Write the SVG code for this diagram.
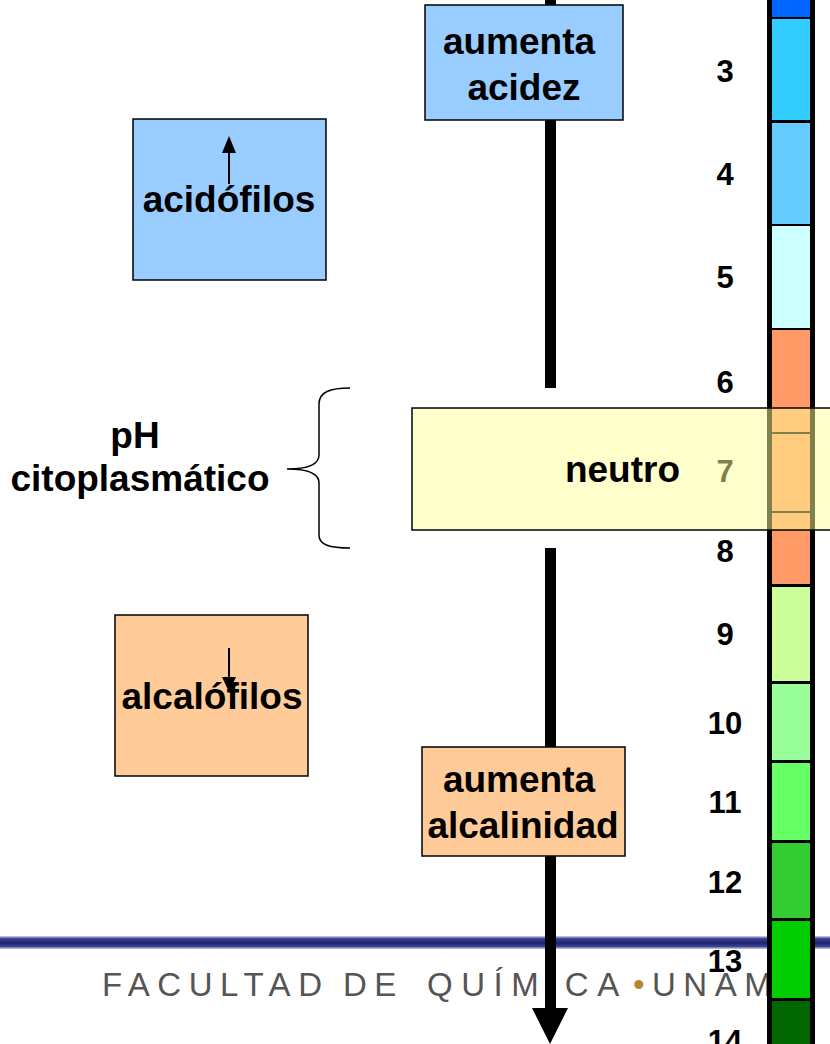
<svg xmlns="http://www.w3.org/2000/svg" width="830" height="1044" viewBox="0 0 830 1044">
<defs>
<style>
.w{font-family:"Liberation Sans",Arial,sans-serif;font-weight:bold;font-size:37px;fill:#000;text-anchor:middle}
.n{font-family:"Liberation Sans",Arial,sans-serif;font-weight:bold;font-size:31px;fill:#000;text-anchor:middle}
.box{stroke:#000;stroke-width:1.5}
.seg{stroke:none}
.ft{font-family:"Liberation Sans",Arial,sans-serif;font-size:33px;fill:#555;letter-spacing:7.5px}
</style>
<linearGradient id="band" x1="0" y1="0" x2="0" y2="1">
<stop offset="0" stop-color="#DADDEC"/>
<stop offset="0.2" stop-color="#3A4490"/>
<stop offset="0.55" stop-color="#1B2470"/>
<stop offset="0.8" stop-color="#3A4490"/>
<stop offset="1" stop-color="#D0D4E6"/>
</linearGradient>
</defs>
<rect width="830" height="1044" fill="#fff"/>
<g id="footer">
<rect x="0" y="936" width="830" height="13" fill="url(#band)"/>
<text class="ft" y="996"><tspan x="102">FACULTAD</tspan><tspan x="343">DE</tspan><tspan x="427" style="letter-spacing:8.5px">QUÍMICA</tspan><tspan x="633" fill="#B08A2E" style="letter-spacing:0">•</tspan><tspan x="652">UNAM</tspan></text>
</g>
<g id="scale-labels">
<text class="n" x="725" y="82">3</text>
<text class="n" x="725" y="185">4</text>
<text class="n" x="725" y="288">5</text>
<text class="n" x="725" y="393">6</text>
<text class="n" x="725" y="482">7</text>
<text class="n" x="725" y="562">8</text>
<text class="n" x="725" y="645">9</text>
<text class="n" x="725" y="734">10</text>
<text class="n" x="725" y="813">11</text>
<text class="n" x="725" y="893">12</text>
<text class="n" x="725" y="972">13</text>
<text class="n" x="725" y="1052">14</text>
</g>
<g id="ph-bar">
<rect x="767" y="0" width="48" height="1044" fill="#000"/>
<rect class="seg" x="772" y="0" width="38" height="17" fill="#0066FF"/>
<rect class="seg" x="772" y="19" width="38" height="101" fill="#33CCFF"/>
<rect class="seg" x="772" y="123" width="38" height="101" fill="#66CCFF"/>
<rect class="seg" x="772" y="226" width="38" height="102" fill="#CCFFFF"/>
<rect class="seg" x="772" y="330" width="38" height="102" fill="#FF9966"/>
<rect class="seg" x="772" y="434" width="38" height="77" fill="#FF9966"/>
<rect class="seg" x="772" y="513" width="38" height="71" fill="#FF9966"/>
<rect class="seg" x="772" y="587" width="38" height="94" fill="#CCFF99"/>
<rect class="seg" x="772" y="684" width="38" height="76" fill="#99FF99"/>
<rect class="seg" x="772" y="763" width="38" height="77" fill="#66FF66"/>
<rect class="seg" x="772" y="843" width="38" height="75" fill="#33CC33"/>
<rect class="seg" x="772" y="921" width="38" height="77" fill="#00CC00"/>
<rect class="seg" x="772" y="1001" width="38" height="43" fill="#006600"/>
</g>
<g id="connectors">
<rect x="545" y="0" width="11" height="388" fill="#000"/>
<rect x="545" y="548" width="11" height="462" fill="#000"/>
<path d="M532,1008 L568,1008 L550,1044 z" fill="#000"/>
<path d="M350,388 C330,388 319,392 319,404 L319,455 C319,466 305,469 287,469 C305,469 319,472 319,483 L319,535 C319,545 330,548 350,548" fill="none" stroke="#000" stroke-width="1.5"/>
</g>
<g id="aumenta-acidez">
<rect class="box" x="425" y="5" width="198" height="115" fill="#99CCFF"/>
<text class="w" x="519" y="54">aumenta</text>
<text class="w" x="524" y="100">acidez</text>
</g>
<g id="acidofilos">
<rect class="box" x="133" y="119" width="193" height="161" fill="#99CCFF"/>
<line x1="229" y1="184" x2="229" y2="150" stroke="#000" stroke-width="2"/>
<path d="M229,136 L236,153 L222,153 z" fill="#000"/>
<text class="w" x="229" y="212">acidófilos</text>
</g>
<g id="ph-citoplasmatico">
<text class="w" x="135" y="448">pH</text>
<text class="w" x="140" y="491">citoplasmático</text>
</g>
<g id="neutro">
<rect x="412" y="408" width="430" height="122" fill="#FFFF99" fill-opacity="0.5" stroke="#000" stroke-width="1.5"/>
<text class="w" x="680" y="482" style="text-anchor:end">neutro</text>
</g>
<g id="alcalofilos">
<rect class="box" x="115" y="615" width="193" height="161" fill="#FFCC99"/>
<text class="w" x="212" y="709">alcalófilos</text>
<line x1="229" y1="648" x2="229" y2="680" stroke="#000" stroke-width="2"/>
<path d="M229,692 L236,677 L222,677 z" fill="#000"/>
</g>
<g id="aumenta-alcalinidad">
<rect class="box" x="422" y="747" width="203" height="109" fill="#FFCC99"/>
<text class="w" x="519" y="792">aumenta</text>
<text class="w" x="523" y="838">alcalinidad</text>
</g>
</svg>
